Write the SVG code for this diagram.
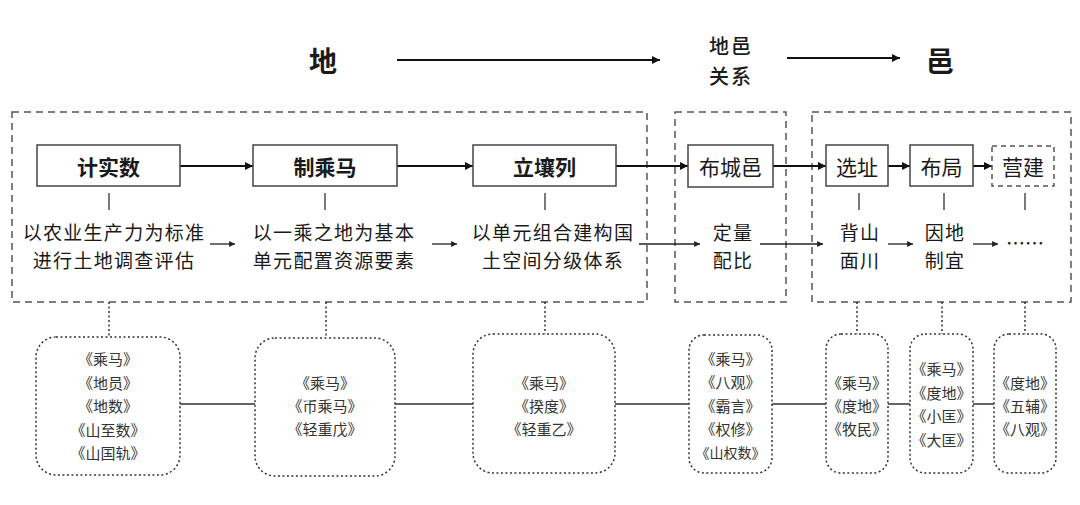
<svg xmlns="http://www.w3.org/2000/svg" width="1080" height="505" viewBox="0 0 1080 505">
<defs>
<style>
.t{font-family:"Noto Sans CJK SC","Liberation Sans",sans-serif;fill:#1a1a1a;text-anchor:middle;dominant-baseline:central}
.h{font-size:28px;font-weight:bold}
.h2{font-size:20px;font-weight:500;letter-spacing:2px}
.bx{font-size:21px;font-weight:bold}
.bn{font-size:21px}
.d{font-size:19px;letter-spacing:1.3px}
.s{font-family:"Noto Sans CJK SC","Liberation Serif",serif;fill:#333;text-anchor:middle;dominant-baseline:central;font-size:15px}
.dash{fill:none;stroke:#555;stroke-width:1.5;stroke-dasharray:7 5}
.box{fill:#fff;stroke:#444;stroke-width:1.5}
.dbox{fill:#fff;stroke:#555;stroke-width:1.5;stroke-dasharray:5 4}
.dot{fill:none;stroke:#333;stroke-width:1.5;stroke-dasharray:2 2.5}
.a{stroke:#111;stroke-width:2;fill:none;marker-end:url(#ah)}
.a1{stroke:#222;stroke-width:1.3;fill:none;marker-end:url(#ahs)}
.v{stroke:#333;stroke-width:1.3}
.g{stroke:#666;stroke-width:2}
</style>
<marker id="ah" viewBox="0 0 10 10" refX="10" refY="5" markerWidth="4" markerHeight="5" orient="auto" markerUnits="strokeWidth"><path d="M0,0L10,5L0,10z" fill="#111"/></marker>
<marker id="ahs" viewBox="0 0 10 10" refX="10" refY="5" markerWidth="4.5" markerHeight="5" orient="auto" markerUnits="strokeWidth"><path d="M0,0L10,5L0,10z" fill="#222"/></marker>
</defs>
<rect width="1080" height="505" fill="#fff"/>

<g id="header">
<text class="t h" x="323" y="60">地</text>
<text class="t h2"><tspan x="731" y="45">地邑</tspan><tspan x="731" y="75">关系</tspan></text>
<text class="t h" x="940" y="60">邑</text>
</g>

<g id="groups">
<rect class="dash" x="12" y="112" width="635" height="190"/>
<rect class="dash" x="675" y="112" width="111" height="190"/>
<rect class="dash" x="812" y="112" width="259" height="190"/>
</g>

<g id="connectors">
<line class="a" x1="397" y1="60" x2="660" y2="60"/>
<line class="a" x1="787" y1="58" x2="900" y2="58"/>
<line class="a" x1="180" y1="166" x2="253" y2="166"/>
<line class="a" x1="397" y1="166" x2="473" y2="166"/>
<line class="a" x1="616" y1="166" x2="688" y2="166"/>
<line class="a" x1="773" y1="166" x2="826" y2="166"/>
<line class="a" x1="888" y1="166" x2="910" y2="166"/>
<line class="a" x1="973" y1="166" x2="992" y2="166"/>
<line class="v" x1="109" y1="193" x2="109" y2="210"/>
<line class="v" x1="325" y1="193" x2="325" y2="210"/>
<line class="v" x1="545" y1="193" x2="545" y2="210"/>
<line class="v" x1="859" y1="193" x2="859" y2="210"/>
<line class="v" x1="944" y1="193" x2="944" y2="210"/>
<line class="v" x1="1025" y1="193" x2="1025" y2="210"/>
<line class="a1" x1="210" y1="244" x2="235" y2="244"/>
<line class="a1" x1="432" y1="244" x2="457" y2="244"/>
<line class="a1" x1="639" y1="244" x2="700" y2="244"/>
<line class="a1" x1="760" y1="244" x2="823" y2="244"/>
<line class="a1" x1="888" y1="244" x2="913" y2="244"/>
<line class="a1" x1="973" y1="244" x2="998" y2="244"/>
<line class="dot" x1="109" y1="302" x2="109" y2="337"/>
<line class="dot" x1="326" y1="302" x2="326" y2="338"/>
<line class="dot" x1="545" y1="302" x2="545" y2="334"/>
<line class="dot" x1="857" y1="302" x2="857" y2="334"/>
<line class="dot" x1="942" y1="302" x2="942" y2="334"/>
<line class="dot" x1="1025" y1="302" x2="1025" y2="334"/>
<line class="g" x1="180" y1="404" x2="255" y2="404"/>
<line class="g" x1="395" y1="404" x2="473" y2="404"/>
<line class="g" x1="615" y1="404" x2="689" y2="404"/>
<line class="g" x1="772" y1="404" x2="826" y2="404"/>
<line class="g" x1="888" y1="404" x2="910" y2="404"/>
<line class="g" x1="973" y1="404" x2="994" y2="404"/>
</g>

<g id="n-jishishu"><rect class="box" x="37" y="145" width="143" height="41"/><text class="t bx" x="108.5" y="165.5">计实数</text></g>
<g id="n-zhichengma"><rect class="box" x="253" y="145" width="144" height="41"/><text class="t bx" x="325" y="165.5">制乘马</text></g>
<g id="n-lirangli"><rect class="box" x="473" y="145" width="143" height="41"/><text class="t bx" x="544.5" y="165.5">立壤列</text></g>
<g id="n-buchengyi"><rect class="box" x="688" y="145" width="85" height="42"/><text class="t bn" x="730.5" y="166">布城邑</text></g>
<g id="n-xuanzhi"><rect class="box" x="826" y="145" width="62" height="41"/><text class="t bn" x="857" y="165.5">选址</text></g>
<g id="n-buju"><rect class="box" x="910" y="145" width="63" height="41"/><text class="t bn" x="941.5" y="165.5">布局</text></g>
<g id="n-yingjian"><rect class="dbox" x="992" y="146" width="62" height="40"/><text class="t bn" x="1023" y="165.5">营建</text></g>

<g id="d1"><text class="t d"><tspan x="114" y="231">以农业生产力为标准</tspan><tspan x="114" y="259">进行土地调查评估</tspan></text></g>
<g id="d2"><text class="t d"><tspan x="334" y="231">以一乘之地为基本</tspan><tspan x="334" y="259">单元配置资源要素</tspan></text></g>
<g id="d3"><text class="t d"><tspan x="553" y="231">以单元组合建构国</tspan><tspan x="553" y="259">土空间分级体系</tspan></text></g>
<g id="d4"><text class="t d"><tspan x="733" y="231">定量</tspan><tspan x="733" y="259">配比</tspan></text></g>
<g id="d5"><text class="t d"><tspan x="860" y="231">背山</tspan><tspan x="860" y="259">面川</tspan></text></g>
<g id="d6"><text class="t d"><tspan x="945" y="231">因地</tspan><tspan x="945" y="259">制宜</tspan></text></g>
<g id="d7"><text class="t d" x="1025" y="242" style="letter-spacing:0">……</text></g>

<g id="b1"><rect class="dot" x="36" y="337" width="144" height="138" rx="20"/>
<text class="s"><tspan x="108" y="358">《乘马》</tspan><tspan x="108" y="381.5">《地员》</tspan><tspan x="108" y="405">《地数》</tspan><tspan x="108" y="428.5">《山至数》</tspan><tspan x="108" y="452">《山国轨》</tspan></text></g>
<g id="b2"><rect class="dot" x="255" y="338" width="140" height="138" rx="20"/>
<text class="s"><tspan x="325" y="382">《乘马》</tspan><tspan x="325" y="405">《币乘马》</tspan><tspan x="325" y="428">《轻重戊》</tspan></text></g>
<g id="b3"><rect class="dot" x="473" y="334" width="142" height="139" rx="20"/>
<text class="s"><tspan x="544" y="382">《乘马》</tspan><tspan x="544" y="405">《揆度》</tspan><tspan x="544" y="428">《轻重乙》</tspan></text></g>
<g id="b4"><rect class="dot" x="689" y="335" width="83" height="138" rx="15"/>
<text class="s"><tspan x="730.5" y="358">《乘马》</tspan><tspan x="730.5" y="381">《八观》</tspan><tspan x="730.5" y="405">《霸言》</tspan><tspan x="730.5" y="428">《权修》</tspan><tspan x="730.5" y="452" style="font-size:14px">《山权数》</tspan></text></g>
<g id="b5"><rect class="dot" x="826" y="334" width="62" height="139" rx="15"/>
<text class="s"><tspan x="857" y="382">《乘马》</tspan><tspan x="857" y="405">《度地》</tspan><tspan x="857" y="428">《牧民》</tspan></text></g>
<g id="b6"><rect class="dot" x="910" y="334" width="63" height="139" rx="15"/>
<text class="s"><tspan x="941.5" y="368">《乘马》</tspan><tspan x="941.5" y="392">《度地》</tspan><tspan x="941.5" y="415">《小匡》</tspan><tspan x="941.5" y="439">《大匡》</tspan></text></g>
<g id="b7"><rect class="dot" x="994" y="334" width="62" height="139" rx="15"/>
<text class="s"><tspan x="1025" y="382">《度地》</tspan><tspan x="1025" y="405">《五辅》</tspan><tspan x="1025" y="428">《八观》</tspan></text></g>
</svg>
